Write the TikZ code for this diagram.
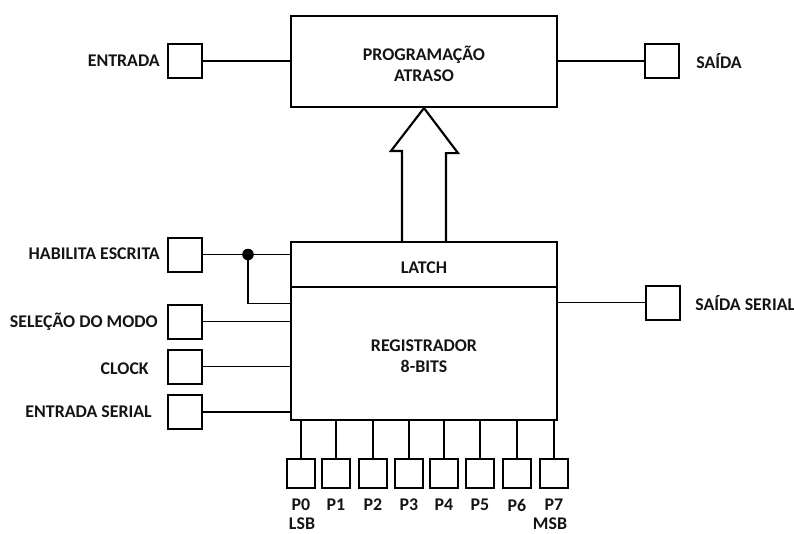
\documentclass[tikz,border=0pt]{standalone}
\usepackage{fontspec}
\setmainfont{Carlito}
\usetikzlibrary{calc}
\tikzset{
  blk/.style={draw, line width=1.6pt, minimum width=199.5pt, inner sep=0pt},
  pad/.style={draw, line width=1.5pt, minimum width=25.5pt, minimum height=25.5pt, inner sep=0pt},
  pin/.style={draw, line width=1.5pt, minimum width=21pt, minimum height=21.5pt, inner sep=0pt},
  wire/.style={line width=1.45pt},
  lbl/.style={font=\bfseries\fontsize{13.4}{15}\selectfont, inner sep=0pt, text=black!92},
}
\begin{document}
\begin{tikzpicture}[x=0.75pt, y=-0.75pt]
\useasboundingbox (0,0) rectangle (794,533);

% main blocks
\node[blk, minimum height=68.25pt] (prog) at (424,61.5) {};
\node[lbl, align=center] (progtxt) at (424,64) {PROGRAMAÇÃO\\[1pt]ATRASO};
\node[blk, minimum height=133.5pt] (reg) at (424,331) {};
\node[blk, minimum height=33.75pt] (latch) at (424,264.5) {};
\node[lbl] (latchtxt) at (424,268) {LATCH};
\node[lbl, align=center] (regtxt) at (424,356) {REGISTRADOR\\[1pt]8-BITS};

% input / output pads
\node[pad] (in)   at (185,61) {};
\node[pad] (out)  at (662,61) {};
\node[pad] (hab)  at (185,254.5) {};
\node[pad] (sel)  at (185,321.5) {};
\node[pad] (clk)  at (185,366.5) {};
\node[pad] (ser)  at (185,412) {};
\node[pad] (sser) at (662.5,302.5) {};

\node[lbl, anchor=east] (intxt)   at (160,61)  {ENTRADA};
\node[lbl, anchor=west] (outtxt)  at (696,61)  {SAÍDA};
\node[lbl, anchor=east] (habtxt)  at (160,254) {HABILITA ESCRITA};
\node[lbl, anchor=east] (seltxt)  at (158,322) {SELEÇÃO DO MODO};
\node[lbl, anchor=east] (clktxt)  at (149,369) {CLOCK};
\node[lbl, anchor=east] (sertxt)  at (152,412) {ENTRADA SERIAL};
\node[lbl, anchor=west] (ssertxt) at (695,303) {SAÍDA SERIAL};

% wires
\draw[wire] (in.east) -- (in.east -| prog.west);
\draw[wire] (prog.east |- out.west) -- (out.west);
\coordinate (dot) at ($(hab.east)+(45,0)$);
\draw[wire] (hab.east) -- (hab.east -| latch.west);
\draw[wire] (dot) |- ($(reg.west |- dot)+(0,49)$);
\fill (dot) circle[radius=5.8];
\draw[wire] (sel.east) -- (sel.east -| reg.west);
\draw[wire] (clk.east) -- (clk.east -| reg.west);
\draw[wire] (ser.east) -- (ser.east -| reg.west);
\draw[wire] (reg.east |- sser.west) -- (sser.west);

% hollow bus arrow from latch to programming block
\draw[line width=1.6pt, line join=miter]
  ($(latch.north)+(-22,0)$) -- ++(0,-90) -- ++(-11,0) -- (prog.south)
  -- ++(34,45) -- ++(-12,0) -- ($(latch.north)+(22,0)$);

% parallel outputs
\foreach \i/\x in {0/301,1/336,2/373,3/409,4/444,5/480,6/517,7/554}{
  \node[pin] (p\i) at (\x,473.5) {};
  \draw[wire] (p\i.north |- reg.south) -- (p\i.north);
  \node[lbl] (pt\i) at (\x,505) {P\i};
}
\node[lbl] (lsb) at (302,524) {LSB};
\node[lbl] (msb) at (550,524) {MSB};
\end{tikzpicture}
\end{document}
